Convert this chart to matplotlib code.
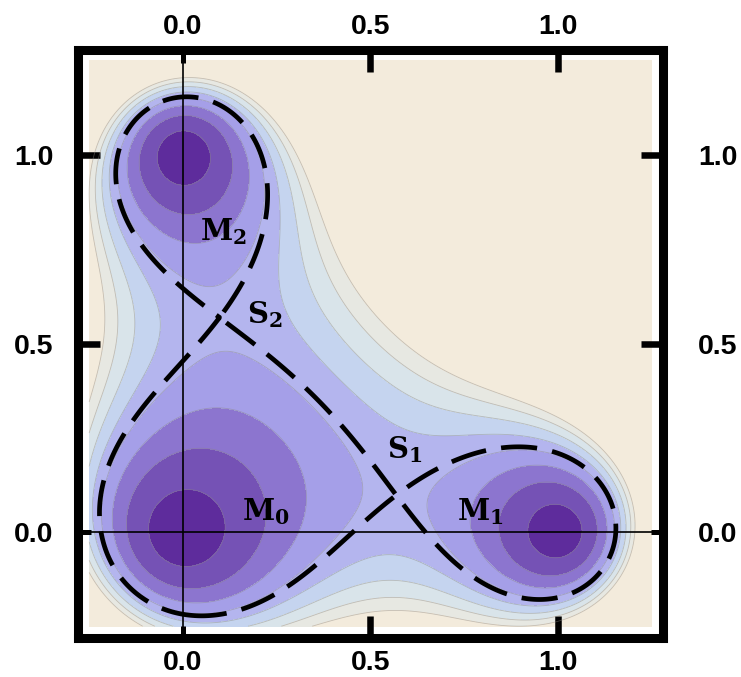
import matplotlib
matplotlib.use('Agg')
import matplotlib.pyplot as plt
import numpy as np

# three minima of the potential V(z) = |(z - m0)(z - m1)(z - m2)|^2
minima_x = [0.0, 1.0, 0.0]
minima_y = [0.0, 0.0, 1.0]

# filled contour boundaries and band colours (deep well -> beige plateau)
levels = [0.01, 0.03, 0.05, 0.07, 0.09, 0.11, 0.13, 0.15]
band_colors = ['#5e2c9c', '#7552b5', '#8c75cf', '#a59fe8', '#b4b5ee',
               '#c5d4ef', '#d9e4ea', '#e7e8e2', '#f3ebdc']

# annotations of minima and saddles
point_labels = [r'$\mathbf{M}_0$', r'$\mathbf{M}_1$', r'$\mathbf{M}_2$',
                r'$\mathbf{S}_1$', r'$\mathbf{S}_2$']
label_x = [0.221, 0.792, 0.107, 0.592, 0.219]
label_y = [0.053, 0.053, 0.796, 0.218, 0.576]

tick_major = [0.5, 1.0]
tick_minor = [0.0]
major_labels = ['0.5', '1.0']
minor_labels = ['0.0']

plt.rcParams['font.family'] = ['Liberation Sans', 'DejaVu Sans']
plt.rcParams['font.weight'] = 'bold'
plt.rcParams['mathtext.fontset'] = 'dejavuserif'
plt.rcParams['lines.scale_dashes'] = False

fig = plt.figure(figsize=(7.41, 6.77), dpi=100)
ax = fig.add_axes([0.1046, 0.0583, 0.7895, 0.8685])
ax.set_xlim(-0.281, 1.279)
ax.set_ylim(-0.28, 1.28)

# potential on the plotted square
gx = np.linspace(-0.25, 1.25, 700)
gy = np.linspace(-0.25, 1.25, 700)
X, Y = np.meshgrid(gx, gy)
Z = X + 1j * Y
poly = np.poly(np.array(minima_x) + 1j * np.array(minima_y))
V = np.abs(np.polyval(poly, Z)) ** 2

# saddle level: critical points of the polynomial
saddles = np.roots(np.polyder(poly))
saddle_level = np.mean(np.abs(np.polyval(poly, saddles)) ** 2)

fill_levels = [-1e-9] + levels + [V.max() + 1]
ax.contourf(X, Y, V, levels=fill_levels, colors=band_colors, zorder=1)
ax.contour(X, Y, V, levels=levels, colors='#8a8580', linewidths=0.6,
           alpha=0.45, zorder=2)

# axis lines through the origin
ax.axhline(0, color='black', lw=1.2, zorder=3)
ax.axvline(0, color='black', lw=1.2, zorder=3)

# separatrix through both saddles
cs = ax.contour(X, Y, V, levels=[saddle_level], colors='black',
                linewidths=3.4, zorder=4)
cs.set_linestyle((0, (26, 11)))

for s, x, y in zip(point_labels, label_x, label_y):
    ax.text(x, y, s, fontsize=21, ha='center', va='center', zorder=6)

# frame and ticks
for sp in ax.spines.values():
    sp.set_linewidth(6.5)
    sp.set_capstyle('projecting')
    sp.set_zorder(7)

ax.set_xticks(tick_major, labels=major_labels)
ax.set_xticks(tick_minor, labels=minor_labels, minor=True)
ax.set_yticks(tick_major, labels=major_labels)
ax.set_yticks(tick_minor, labels=minor_labels, minor=True)
ax.tick_params(which='both', direction='in', top=True, right=True,
               labelsize=20.5, color='black')
ax.tick_params(which='major', length=16, width=4.7)
ax.tick_params(which='minor', length=9, width=3.6)
ax.tick_params(axis='x', which='both', pad=9)
ax.tick_params(axis='y', which='both', pad=17.5)

# top / right labels sit at their own distances
secx = ax.secondary_xaxis('top')
secx.set_xticks(tick_major, labels=major_labels)
secx.set_xticks(tick_minor, labels=minor_labels, minor=True)
secx.tick_params(which='both', length=0, pad=7, labelsize=20.5)
secy = ax.secondary_yaxis('right')
secy.set_yticks(tick_major, labels=major_labels)
secy.set_yticks(tick_minor, labels=minor_labels, minor=True)
secy.tick_params(which='both', length=0, pad=25.5, labelsize=20.5)
for sec in (secx, secy):
    for sp in sec.spines.values():
        sp.set_visible(False)

fig.savefig('out.png', dpi=100)
